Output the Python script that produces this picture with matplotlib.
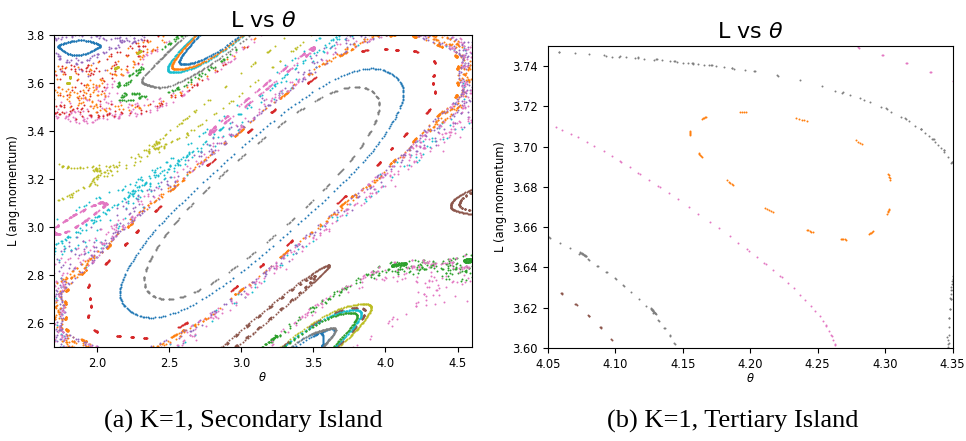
import numpy as np
import matplotlib
matplotlib.use('Agg')
import matplotlib.pyplot as plt

K = 1.0

# (a) K=1, secondary island -- one start point read off each curve / band,
# with the number of map iterations used for that orbit
a_theta0 = [2.46, 2.16, 1.95, 2.04, 2.80, 4.52, 3.60, 1.86, 2.31, 2.49, 2.52, 2.575,
            3.556, 3.648, 3.902, 3.856, 3.833, 3.80, 4.08,
            1.78, 1.75, 2.30, 1.75, 1.80, 3.80, 1.80, 1.90, 4.50, 3.60, 2.20, 4.30,
            1.80, 2.00, 1.75, 2.30, 3.70]
a_L0 = [2.70, 2.74, 2.70, 3.10, 3.41, 3.11, 2.84, 3.715, 3.61, 3.66, 3.672, 3.682,
        2.557, 2.578, 2.668, 2.654, 2.64, 2.62, 2.84,
        2.62, 2.75, 3.20, 2.90, 3.45, 3.10, 3.25, 3.55, 3.50, 2.70, 3.55, 2.86,
        3.60, 3.55, 3.65, 3.05, 3.05]
a_n_iter = [500, 500, 1000, 1000, 1000, 1000, 1000, 1000, 1000, 1000, 1000, 1000,
            1000, 1000, 1000, 1000, 1000, 1000, 1000,
            1000, 1000, 1000, 1000, 1000, 1000, 1000, 1000, 1000, 1000, 1000, 1000,
            1000, 1000, 1000, 1000, 1000]
a_colors = ['tab:gray', 'tab:blue', 'tab:red', 'tab:pink', 'tab:pink', 'tab:brown',
            'tab:brown', 'tab:blue', 'tab:gray', 'tab:cyan', 'tab:orange', 'tab:blue',
            'tab:blue', 'tab:gray', 'tab:olive', 'tab:brown', 'tab:cyan', 'tab:green',
            'tab:green',
            'tab:orange', 'tab:cyan', 'tab:cyan', 'tab:purple', 'tab:pink', 'tab:pink',
            'tab:olive', 'tab:red', 'tab:orange', 'tab:green', 'tab:green', 'tab:pink',
            'tab:olive', 'tab:orange', 'tab:purple', 'tab:purple', 'tab:pink']

# (b) K=1, tertiary island
b_theta0 = [4.196, 4.133, 4.316, 4.0715, 4.08, 4.13, 4.3476, 4.1555]
b_L0 = [3.738, 3.680, 3.7415, 3.6214, 3.644, 3.617, 3.615, 3.706]
b_n_iter = [1000] * 8
b_colors = ['tab:gray', 'tab:pink', 'tab:pink', 'tab:brown', 'tab:gray', 'tab:gray',
            'tab:gray', 'tab:orange']


def standard_map(theta0, L0, n):
    th, L = float(theta0), float(L0)
    ths, Ls = [th], [L]
    for _ in range(n - 1):
        L = (L + K * np.sin(th)) % (2 * np.pi)
        th = (th + L) % (2 * np.pi)
        ths.append(th)
        Ls.append(L)
    return np.array(ths), np.array(Ls)


fig = plt.figure(figsize=(9.66, 4.41), dpi=100)
W, H = 966, 441
ax1 = fig.add_axes([53.7 / W, (H - 347) / H, (472 - 53.7) / W, (347 - 35) / H])
ax2 = fig.add_axes([547.7 / W, (H - 348) / H, (952.7 - 547.7) / W, (348 - 46) / H])

panels = [(ax1, a_theta0, a_L0, a_n_iter, a_colors),
          (ax2, b_theta0, b_L0, b_n_iter, b_colors)]
for ax, th0, L0, nit, cols in panels:
    for t, l, n, c in zip(th0, L0, nit, cols):
        ths, Ls = standard_map(t, l, n)
        ax.scatter(ths, Ls, s=2, c=c, linewidths=0)
    ax.set_title(r'L vs $\theta$', fontsize=16)
    ax.set_xlabel(r'$\theta$', fontsize=8.3, labelpad=1)
    ax.set_ylabel('L (ang.momentum)', fontsize=8.3)
    ax.tick_params(labelsize=8.3)

ax1.set_xlim(1.7, 4.6)
ax1.set_ylim(2.5, 3.8)
ax1.set_xticks([2.0, 2.5, 3.0, 3.5, 4.0, 4.5])
ax1.set_yticks([2.6, 2.8, 3.0, 3.2, 3.4, 3.6, 3.8])

ax2.set_xlim(4.05, 4.35)
ax2.set_ylim(3.60, 3.75)
ax2.set_xticks([4.05, 4.10, 4.15, 4.20, 4.25, 4.30, 4.35])
ax2.set_yticks([3.60, 3.62, 3.64, 3.66, 3.68, 3.70, 3.72, 3.74])

fig.text(243 / W, (H - 428) / H, '(a) K=1, Secondary Island', ha='center', va='baseline',
         family='Liberation Serif', fontsize=19)
fig.text(732.5 / W, (H - 428) / H, '(b) K=1, Tertiary Island', ha='center', va='baseline',
         family='Liberation Serif', fontsize=19)

fig.savefig('out.png', dpi=100)
